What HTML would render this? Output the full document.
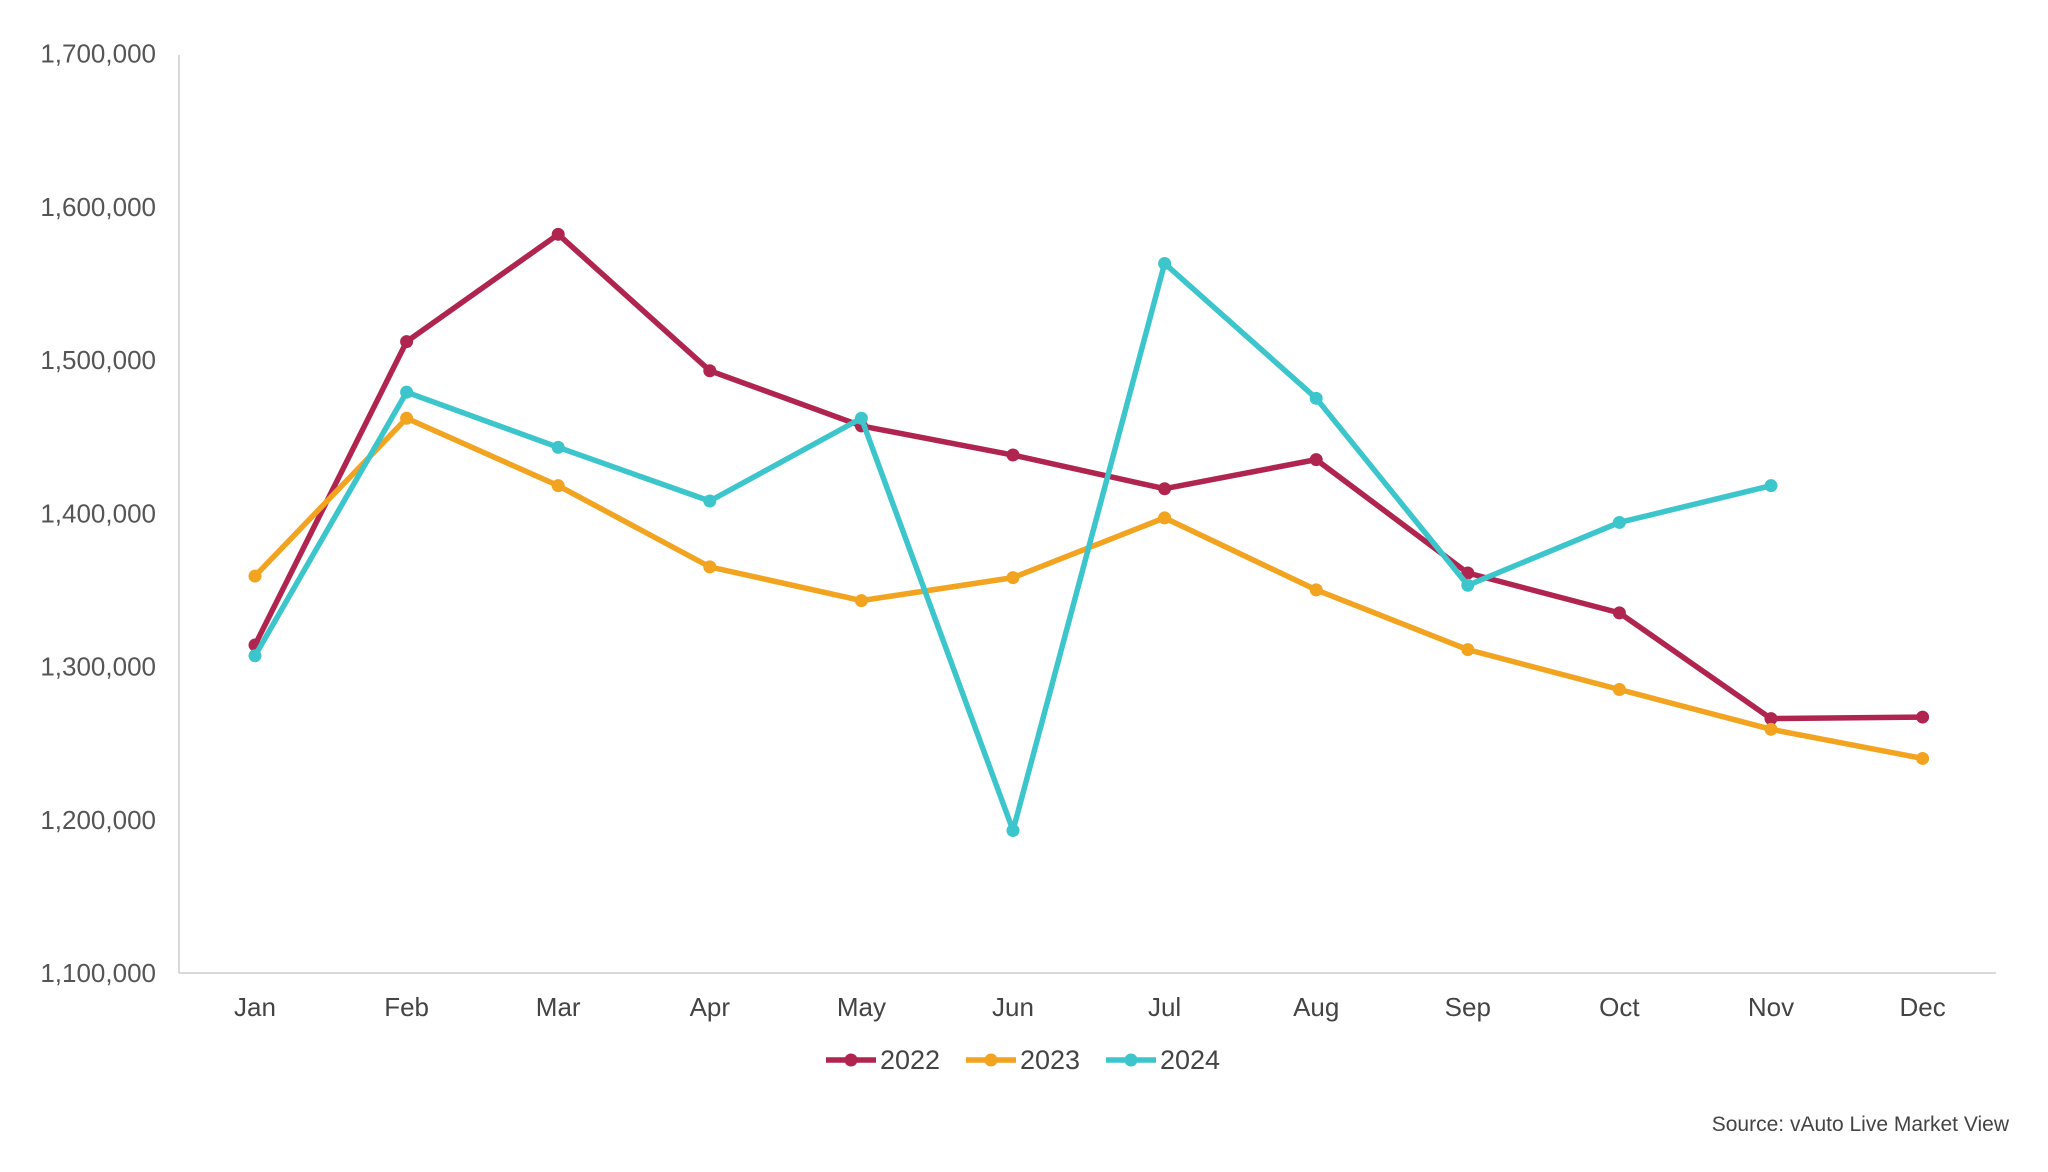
<!DOCTYPE html>
<html><head><meta charset="utf-8"><style>
html,body{margin:0;padding:0;background:#fff;}
svg{display:block;font-family:"Liberation Sans",sans-serif;}
</style></head><body>
<svg width="2048" height="1172" viewBox="0 0 2048 1172">
<g id="axes"></g><g id="series"></g><g id="legend"></g>
<text x="2009" y="1131" text-anchor="end" font-size="21" fill="#444">Source: vAuto Live Market View</text>
</svg>
<script>
const months = ["Jan","Feb","Mar","Apr","May","Jun","Jul","Aug","Sep","Oct","Nov","Dec"];
const yTicks = [1100000,1200000,1300000,1400000,1500000,1600000,1700000];
const seriesNames = ["2022","2023","2024"];
const s2022 = [1314000,1512000,1582000,1493000,1457000,1438000,1416000,1435000,1361000,1335000,1266000,1267000];
const s2023 = [1359000,1462000,1418000,1365000,1343000,1358000,1397000,1350000,1311000,1285000,1259000,1240000];
const s2024 = [1307000,1479000,1443000,1408000,1462000,1193000,1563000,1475000,1353000,1394000,1418000];
const colors = ["#b0254f","#f2a31f","#3cc6cc"];
const NS="http://www.w3.org/2000/svg";
const X0=255, DX=151.6, Y0=973, Y1=53.5, VMIN=1100000, VMAX=1700000;
const x=i=>X0+i*DX;
const y=v=>Y0-(v-VMIN)/(VMAX-VMIN)*(Y0-Y1);
function mk(tag,attrs,parent){const e=document.createElementNS(NS,tag);for(const k in attrs)e.setAttribute(k,attrs[k]);parent.appendChild(e);return e;}
const axes=document.getElementById('axes');
let ax=mk('line',{x1:179,y1:55,x2:179,y2:973,stroke:'#d9d9d9','stroke-width':2},axes);


ax=mk('line',{x1:179,y1:973,x2:1996,y2:973,stroke:'#d9d9d9','stroke-width':2},axes);


yTicks.forEach(v=>{const t=mk('text',{x:156,y:y(v)+9,'text-anchor':'end','font-size':26,fill:'#555'},axes);t.textContent=v.toLocaleString('en-US');

});
months.forEach((m,i)=>{const t=mk('text',{x:x(i),y:1016,'text-anchor':'middle','font-size':26,fill:'#444'},axes);t.textContent=m;

});
const ser=document.getElementById('series');
[s2022,s2023,s2024].forEach((d,k)=>{
const g=mk('g',{},ser);


mk('polyline',{points:d.map((v,i)=>x(i)+','+y(v)).join(' '),fill:'none',stroke:colors[k],'stroke-width':5.5,'stroke-linejoin':'round'},g);
d.forEach((v,i)=>{const c=mk('circle',{cx:x(i),cy:y(v),r:6.5,fill:colors[k]},g);

});
});
const leg=document.getElementById('legend');
const lx=[826,966,1106];
seriesNames.forEach((n,k)=>{
const g=mk('g',{},leg);


mk('line',{x1:lx[k],y1:1060,x2:lx[k]+50,y2:1060,stroke:colors[k],'stroke-width':5.5},g);
mk('circle',{cx:lx[k]+25,cy:1060,r:6.5,fill:colors[k]},g);
const t=mk('text',{x:lx[k]+54,y:1069,'font-size':27,fill:'#444'},g);t.textContent=n;
});
</script>
</body></html>
